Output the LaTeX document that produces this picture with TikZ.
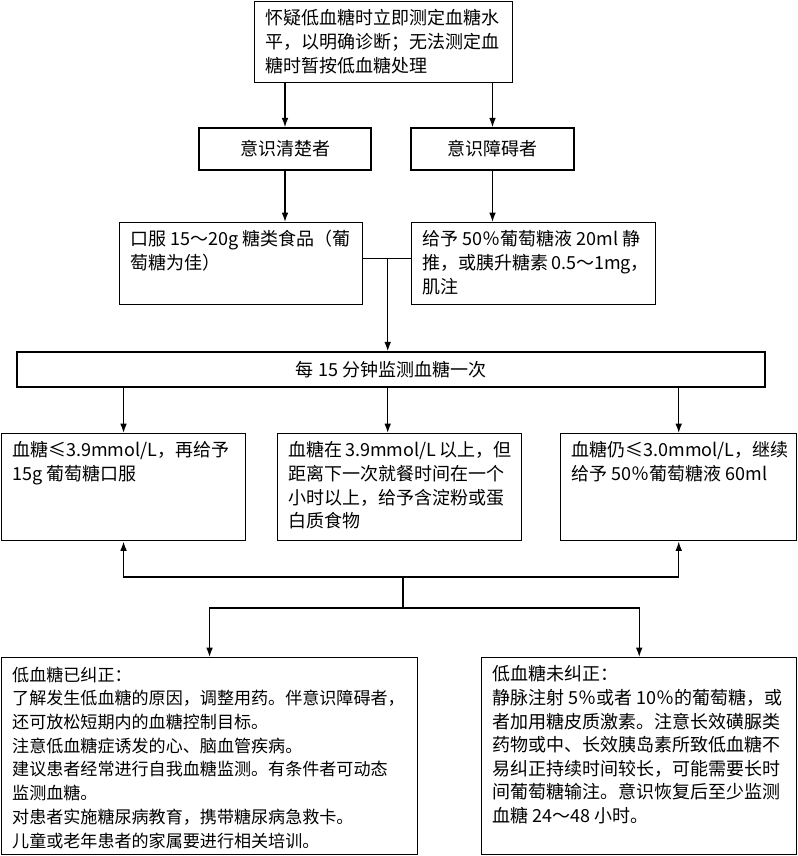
\documentclass[tikz,border=0pt]{standalone}
\usepackage{fontspec}
\setmainfont{Noto Sans CJK SC}
\usetikzlibrary{arrows.meta}
\newcommand{\tb}[3]{\parbox[t][#2][t]{#1}{\raggedright\strut #3}}
\tikzset{
  box/.style={draw, line width=1.1pt, anchor=north west, inner xsep=8pt, inner ysep=5pt,
    font=\fontsize{13.5}{17.7}\selectfont},
  cbox/.style={draw, line width=1.1pt, inner sep=0pt, font=\fontsize{13.5}{17.7}\selectfont},
  arr/.style={line width=1pt, -{Latex[length=7pt,width=5pt]}},
  link/.style={line width=1pt}
}
\begin{document}
\begin{tikzpicture}[x=0.75pt,y=-0.75pt]
\useasboundingbox (0,0) rectangle (797,856);
\node[box] (top) at (254,1) {\tb{177.5pt}{50.75pt}{怀疑低血糖时立即测定血糖水\\平，以明确诊断；无法测定血\\糖时暂按低血糖处理}};
\node[cbox, minimum width=129pt, minimum height=31.5pt] (clear) at (285,149) {意识清楚者};
\node[cbox, minimum width=122.25pt, minimum height=31.5pt] (impaired) at (492.5,149) {意识障碍者};
\node[box] (oral) at (119,222) {\tb{166.25pt}{51.5pt}{口服~15～20g~糖类食品（葡\\萄糖为佳）}};
\node[box] (iv) at (411,222) {\tb{167pt}{51.5pt}{给予~50％葡萄糖液~20ml~静\\推，或胰升糖素~0.5～1mg，\\肌注}};
\node[cbox, minimum width=561pt, minimum height=26.25pt] (monitor) at (391,369.5) {每 15 分钟监测血糖一次};
\node[box] (low) at (0.8,433) {\tb{167pt}{70.25pt}{血糖≤3.9mmol/L，再给予\\15g~葡萄糖口服}};
\node[box] (mid) at (277,433) {\tb{167pt}{70.25pt}{血糖在~3.9mmol/L~以上，但\\距离下一次就餐时间在一个\\小时以上，给予含淀粉或蛋\\白质食物}};
\node[box] (still) at (560,433) {\tb{161pt}{70.25pt}{血糖仍≤3.0mmol/L，继续\\给予~50％葡萄糖液~60ml}};
\node[box, font=\fontsize{12.8}{17.8}\selectfont] (corrected) at (0.8,657) {\tb{296pt}{137.75pt}{低血糖已纠正：\\了解发生低血糖的原因，调整用药。伴意识障碍者，\\还可放松短期内的血糖控制目标。\\注意低血糖症诱发的心、脑血管疾病。\\建议患者经常进行自我血糖监测。有条件者可动态\\监测血糖。\\对患者实施糖尿病教育，携带糖尿病急救卡。\\儿童或老年患者的家属要进行相关培训。}};
\node[box] (uncorrected) at (481,657) {\tb{220.25pt}{137.75pt}{低血糖未纠正：\\静脉注射~5％或者~10％的葡萄糖，或\\者加用糖皮质激素。注意长效磺脲类\\药物或中、长效胰岛素所致低血糖不\\易纠正持续时间较长，可能需要长时\\间葡萄糖输注。意识恢复后至少监测\\血糖~24～48~小时。}};
\draw[arr] (clear.north |- top.south) -- (clear.north);
\draw[arr] (impaired.north |- top.south) -- (impaired.north);
\draw[arr] (clear.south) -- (clear.south |- oral.north);
\draw[arr] (impaired.south) -- (impaired.south |- iv.north);
\draw[link] ([yshift=3.75pt]oral.east) -- ([yshift=3.75pt]iv.west) coordinate[pos=0.51] (j);
\draw[arr] (j) -- (j |- monitor.north);
\draw[arr] (low.north |- monitor.south) -- (low.north);
\draw[arr] (j |- monitor.south) -- (j |- mid.north);
\draw[arr] (still.north |- monitor.south) -- (still.north);
\coordinate (up) at (403,577);
\coordinate (dn) at (403,608);
\draw[arr] (up) -| (low.south);
\draw[arr] (up) -| (still.south);
\draw[link] (up) -- (dn);
\draw[arr] (dn) -| (corrected.north);
\draw[arr] (dn) -| (uncorrected.north);
\end{tikzpicture}
\end{document}
